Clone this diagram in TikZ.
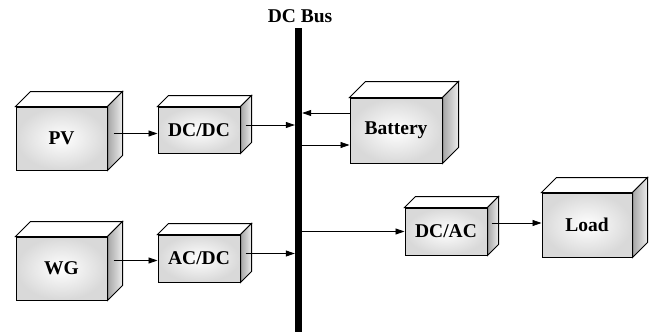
\documentclass[tikz,border=0pt]{standalone}
\usepackage{fontspec}
\setmainfont{Liberation Serif}
\usetikzlibrary{calc,arrows.meta}

\tikzset{
	frontface/.style={draw, line width=1pt, inner sep=0pt, inner color=white, outer color=gray!30,
		font=\fontsize{19.5}{21}\selectfont\bfseries},
	topface/.style={draw, line width=1pt, fill=white},
	sideface/.style={draw, line width=1pt, left color=gray!70, right color=gray!15},
	conn/.style={line width=0.8pt, -{Triangle[length=9pt,width=6pt]}},
}

\begin{document}
\begin{tikzpicture}[x=1pt, y=-1pt]
\useasboundingbox (0, 0) rectangle (656, 332);
% 母線
	\node[fill=black, minimum width=7pt, minimum height=304pt, inner sep=0pt] (bus) at (298.5, 180) {};
	\node[font=\fontsize{19.5}{21}\selectfont\bfseries] (buslabel) at (300, 16) {DC Bus};
% 左側
	\node[frontface, minimum width=91pt, minimum height=63pt] (pv) at (61.5, 138.5) {PV};
	\node[frontface, minimum width=82pt, minimum height=46pt] (dcdc) at (199, 130) {DC/DC};
	\node[frontface, minimum width=91pt, minimum height=63pt] (wg) at (61.5, 268.5) {WG};
	\node[frontface, minimum width=82pt, minimum height=47pt] (acdc) at (199, 258.5) {AC/DC};
% 右側
	\node[frontface, minimum width=92pt, minimum height=65pt] (bat) at (396, 130.5) {Battery};
	\node[frontface, minimum width=82pt, minimum height=47pt] (dcac) at (446, 231.5) {DC/AC};
	\node[frontface, minimum width=90pt, minimum height=64pt] (load) at (587, 225) {Load};
% 立体の上面と側面
	\foreach \n/\d in {pv/15, dcdc/11, wg/15, acdc/11, bat/16, dcac/11, load/15}{
		\draw[topface] (\n.north west) -- ++(\d, -\d) -- ($(\n.north east)+(\d, -\d)$) -- (\n.north east) -- cycle;
		\draw[sideface] (\n.north east) -- ++(\d, -\d) -- ($(\n.south east)+(\d, -\d)$) -- (\n.south east) -- cycle;
	}
% 矢印
	\coordinate (pvout) at ($(pv.east)+(6, -5)$);
	\coordinate (dcdcout) at ($(dcdc.east)+(5, -5)$);
	\coordinate (wgout) at ($(wg.east)+(6, -8)$);
	\coordinate (acdcout) at ($(acdc.east)+(5, -5)$);
	\coordinate (batout) at ($(bat.west)+(0, -17.5)$);
	\coordinate (batin) at ($(bat.west)+(0, 14.5)$);
	\coordinate (dcacout) at ($(dcac.east)+(4, -8.5)$);
	\draw[conn] (pvout) -- (pvout -| dcdc.west);
	\draw[conn] (dcdcout) -- (dcdcout -| bus.west);
	\draw[conn] (wgout) -- (wgout -| acdc.west);
	\draw[conn] (acdcout) -- (acdcout -| bus.west);
	\draw[conn] (batout) -- (batout -| bus.east);
	\draw[conn] (batin -| bus.east) -- (batin);
	\draw[conn] (dcac.west -| bus.east) -- (dcac.west);
	\draw[conn] (dcacout) -- (dcacout -| load.west);
\end{tikzpicture}
\end{document}
